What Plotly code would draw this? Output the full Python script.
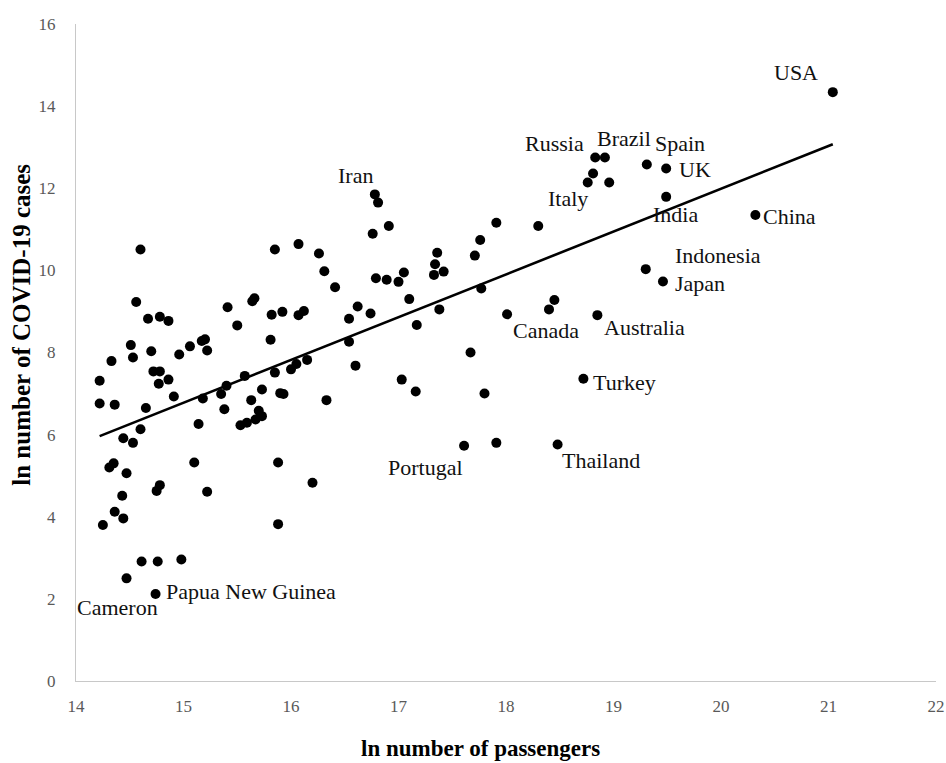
import numpy as np
import plotly.graph_objects as go

# ln number of passengers (x) and ln number of COVID-19 cases (y) per country
ln_passengers = [
    14.60, 15.85, 16.07, 14.56, 15.41, 15.66, 15.64, 14.67, 14.78, 14.86,
    15.50, 15.82, 15.92, 16.07, 16.12, 14.51, 14.53, 14.33, 14.70, 14.96,
    15.06, 15.17, 15.20, 15.22, 15.81, 14.22, 14.72, 14.78, 14.77, 14.86,
    14.22, 14.36, 14.65, 14.91, 15.18, 15.40, 15.35, 15.57, 15.73, 15.63,
    15.85, 15.90, 15.93, 16.00, 16.05, 15.38, 15.70, 15.73, 15.67, 15.59,
    15.53, 16.26, 16.31, 16.41, 16.76, 16.91, 16.79, 16.89, 17.00, 17.05,
    17.10, 17.17, 16.54, 16.62, 16.74, 16.54, 16.60, 17.03, 17.16, 16.33,
    16.15, 15.88, 16.20, 15.88, 15.14, 14.60, 14.44, 14.53, 14.31, 14.35,
    14.47, 15.10, 14.75, 14.78, 15.22, 14.43, 14.36, 14.44, 14.25, 14.61,
    14.76, 14.98, 14.47, 14.74, 16.78, 16.81, 17.36, 17.34, 17.33, 17.42,
    17.71, 17.76, 17.91, 18.30, 17.77, 17.38, 18.01, 17.67, 18.40, 18.45,
    18.85, 17.80, 18.72, 17.61, 17.91, 18.48, 21.04, 18.83, 18.92, 18.81,
    18.76, 18.96, 19.31, 19.49, 19.49, 20.32, 19.30, 19.46,
]
ln_cases = [
    10.51, 10.51, 10.64, 9.23, 9.10, 9.32, 9.25, 8.82, 8.87, 8.77,
    8.66, 8.92, 8.99, 8.91, 9.01, 8.18, 7.88, 7.79, 8.03, 7.95,
    8.15, 8.28, 8.32, 8.05, 8.31, 7.31, 7.54, 7.54, 7.24, 7.34,
    6.76, 6.73, 6.65, 6.93, 6.88, 7.19, 6.99, 7.43, 7.10, 6.84,
    7.51, 7.01, 6.99, 7.59, 7.72, 6.62, 6.58, 6.45, 6.37, 6.29,
    6.23, 10.41, 9.98, 9.59, 10.89, 11.08, 9.81, 9.77, 9.72, 9.95,
    9.30, 8.67, 8.82, 9.12, 8.95, 8.26, 7.68, 7.34, 7.05, 6.84,
    7.82, 5.32, 4.83, 3.82, 6.26, 6.13, 5.91, 5.80, 5.20, 5.30,
    5.06, 5.32, 4.63, 4.77, 4.61, 4.51, 4.12, 3.96, 3.80, 2.91,
    2.91, 2.96, 2.50, 2.12, 11.85, 11.65, 10.43, 10.15, 9.89, 9.97,
    10.36, 10.74, 11.16, 11.08, 9.56, 9.05, 8.93, 8.00, 9.05, 9.28,
    8.91, 7.00, 7.36, 5.73, 5.80, 5.76, 14.34, 12.75, 12.75, 12.36,
    12.14, 12.14, 12.58, 12.48, 11.79, 11.35, 10.03, 9.73,
]

# Country labels and where their text sits
label_names = ["USA", "Russia", "Brazil", "Spain", "UK", "Italy", "India",
               "China", "Indonesia", "Japan", "Australia", "Turkey",
               "Thailand", "Canada", "Portugal", "Iran",
               "Papua New Guinea", "Cameron"]
label_x = [20.70, 18.45, 19.10, 19.62, 19.76, 18.58, 19.58,
           20.64, 19.97, 19.80, 19.29, 19.10,
           18.88, 18.37, 17.25, 16.60,
           15.63, 14.39]
label_y = [14.81, 13.09, 13.22, 13.10, 12.45, 11.74, 11.37,
           11.30, 10.36, 9.67, 8.61, 7.28,
           5.36, 8.54, 5.21, 12.32,
           2.17, 1.78]

x_ticks = [14, 15, 16, 17, 18, 19, 20, 21, 22]
y_ticks = [0, 2, 4, 6, 8, 10, 12, 14, 16]

SERIF = "Liberation Serif, Times New Roman, serif"

xs = np.array(ln_passengers)
ys = np.array(ln_cases)

# Linear least-squares trend line over the data range
slope, intercept = np.polyfit(xs, ys, 1)
trend_x = np.array([xs.min(), xs.max()])
trend_y = slope * trend_x + intercept

fig = go.Figure()
fig.add_trace(go.Scatter(
    x=xs, y=ys, mode="markers",
    marker=dict(color="black", size=10, line=dict(width=0)),
    showlegend=False, hoverinfo="x+y",
))
fig.add_trace(go.Scatter(
    x=trend_x, y=trend_y, mode="lines",
    line=dict(color="black", width=2.6),
    showlegend=False, hoverinfo="skip",
))

for name, lx, ly in zip(label_names, label_x, label_y):
    fig.add_annotation(
        x=lx, y=ly, text=name, showarrow=False,
        xanchor="center", yanchor="middle",
        font=dict(family=SERIF, size=22, color="#111111"),
    )

# Axis titles, placed as paper-anchored text
fig.add_annotation(
    xref="paper", yref="paper", x=0.47, y=-0.102,
    text="<b>ln number of passengers</b>", showarrow=False,
    xanchor="center", yanchor="middle",
    font=dict(family=SERIF, size=23, color="black"),
)
fig.add_annotation(
    xref="paper", yref="paper", x=-0.063, y=0.542, textangle=-90,
    text="<b>ln number of COVID-19 cases</b>", showarrow=False,
    xanchor="center", yanchor="middle",
    font=dict(family=SERIF, size=25, color="black"),
)

fig.update_layout(
    width=946, height=763,
    margin=dict(l=76, r=10, t=24, b=82, autoexpand=False),
    paper_bgcolor="white", plot_bgcolor="white",
    font=dict(family=SERIF),
)
fig.update_xaxes(
    range=[14, 22], tickvals=x_ticks, ticktext=[str(v) for v in x_ticks],
    automargin=False,
    showgrid=False, zeroline=False,
    showline=True, linecolor="#c8c8c8", linewidth=1,
    ticks="outside", ticklen=10, tickcolor="rgba(0,0,0,0)",
    tickfont=dict(family=SERIF, size=17, color="#595959"),
)
fig.update_yaxes(
    range=[0, 16], tickvals=y_ticks, ticktext=[str(v) for v in y_ticks],
    automargin=False,
    showgrid=False, zeroline=False,
    showline=True, linecolor="#c8c8c8", linewidth=1,
    ticks="outside", ticklen=16, tickcolor="rgba(0,0,0,0)",
    tickfont=dict(family=SERIF, size=17, color="#595959"),
)

fig.write_html("out.html")
